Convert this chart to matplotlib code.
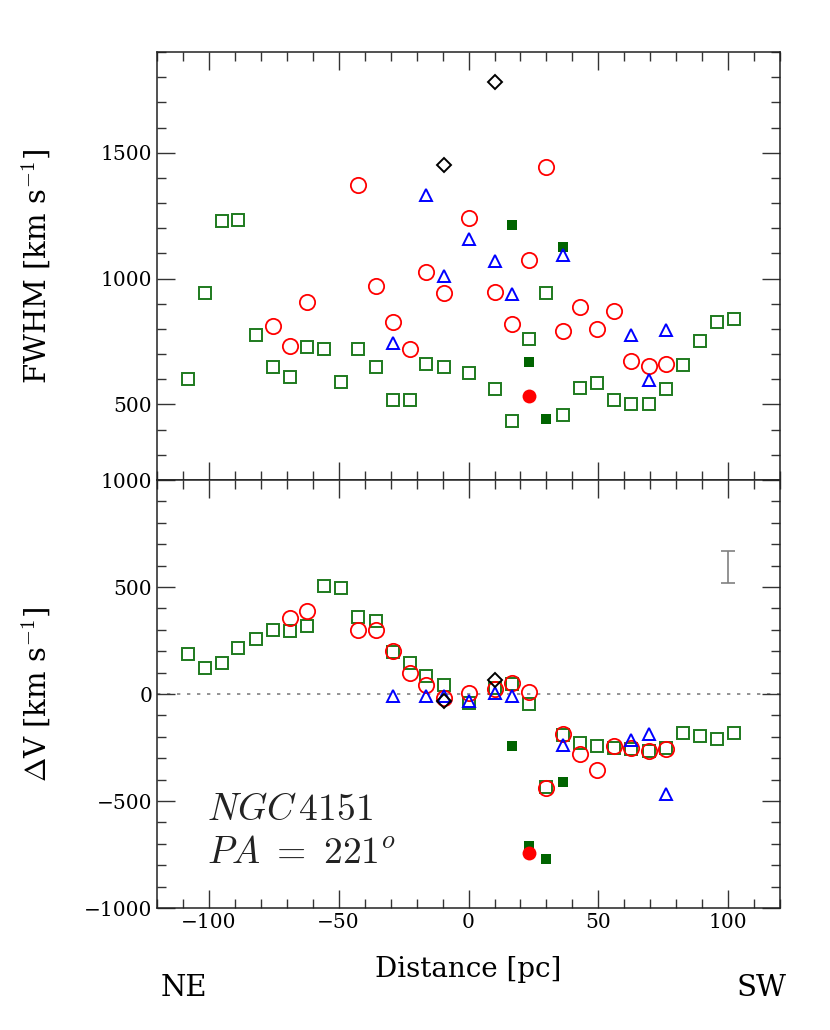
import numpy as np
import matplotlib

matplotlib.use("Agg")
import matplotlib.pyplot as plt
from matplotlib.ticker import MultipleLocator

plt.rcParams["font.family"] = "DejaVu Serif"
plt.rcParams["mathtext.fontset"] = "cm"

# =========================
# DATA (FWHM, oberes Panel)
# =========================
x_sq = [-108.2, -101.5, -95.1, -88.6, -81.9, -75.3, -68.7, -62.2, -55.6, -49.1,
        -42.4, -35.8, -29.2, -22.7, -16.2, -9.6, 0.3, 10.1, 16.7, 23.3, 29.9,
        36.5, 43.1, 49.6, 56.2, 62.7, 69.3, 75.9, 82.4, 89.0, 95.6, 102.2]
fwhm_sq = [600, 943, 1227, 1234, 774, 647, 608, 729, 721, 588,
           721, 648, 516, 516, 659, 647, 623, 560, 436, 761, 943,
           460, 566, 586, 516, 501, 501, 562, 657, 753, 827, 840]

x_circ = [-75.3, -68.7, -62.2, -42.4, -35.8, -29.2, -22.7, -16.2, -9.6, 0.3,
          10.1, 16.7, 23.3, 29.9, 36.5, 43.1, 49.6, 56.2, 62.7, 69.3, 75.9]
fwhm_circ = [813, 734, 906, 1370, 972, 829, 721, 1025, 942, 1240,
             947, 821, 1073, 1442, 791, 886, 800, 870, 673, 651, 661]

x_tri = [-29.2, -16.2, -9.6, 0.3, 10.1, 16.7, 36.5, 62.7, 69.3, 75.9]
fwhm_tri = [745, 1333, 1012, 1158, 1069, 939, 1095, 774, 599, 794]

x_dia = [-9.6, 10.1]
fwhm_dia = [1451, 1782]

x_fsq = [16.7, 23.3, 29.9, 36.5]
fwhm_fsq = [1214, 669, 442, 1126]

x_fcirc = [23.3]
fwhm_fcirc = [533]

# =========================
# DATA (Delta V, unteres Panel)
# =========================
dv_sq = [185, 123, 143, 216, 259, 298, 294, 318, 505, 494,
         361, 341, 198, 146, 84, 41, -42, 27, 48, -48, -435,
         -193, -227, -243, -251, -256, -266, -251, -182, -196, -209, -182]

x_circ_dv = [-68.7, -62.2, -42.4, -35.8, -29.2, -22.7, -16.2, -9.6, 0.3,
             10.1, 16.7, 23.3, 29.9, 36.5, 43.1, 49.6, 56.2, 62.7, 69.3, 75.9]
dv_circ = [355, 389, 298, 298, 201, 100, 41, -17, 6,
           22, 51, 9, -438, -185, -279, -355, -245, -254, -266, -259]

x_tri_dv = [-29.2, -16.2, -9.6, 0.3, 10.1, 16.7, 36.5, 62.7, 69.3, 75.9]
dv_tri = [-9, -11, -9, -33, 5, -9, -238, -215, -185, -466]

dv_dia = [-33, 65]

dv_fsq = [-243, -710, -773, -411]

dv_fcirc = [-742]

# typischer Fehlerbalken
err_x = 100
err_y = 593
err_size = 75

# =========================
# PLOT
# =========================
green = "#1e7a1e"
dkgreen = "#006400"

fig = plt.figure(figsize=(8.3, 10.3), dpi=100)
ax1 = fig.add_axes([0.189, 0.534, 0.751, 0.4155])
ax2 = fig.add_axes([0.189, 0.1184, 0.751, 0.4155], sharex=ax1)


def draw_points(ax, y_sq, y_circ, x_c, y_tri, x_t, y_dia, y_fsq, y_fcirc):
    ax.plot(x_sq, y_sq, "s", ms=8, mfc="none", mec=green, mew=1.4, zorder=3)
    ax.plot(x_c, y_circ, "o", ms=11, mfc="none", mec="red", mew=1.3, zorder=4)
    ax.plot(x_t, y_tri, "^", ms=9, mfc="none", mec="blue", mew=1.4, zorder=5)
    ax.plot(x_dia, y_dia, "D", ms=7.5, mfc="none", mec="black", mew=1.4, zorder=5)
    ax.plot(x_fsq, y_fsq, "s", ms=7, color=dkgreen, mew=0, zorder=4)
    ax.plot(x_fcirc, y_fcirc, "o", ms=10, color="red", mew=0, zorder=5)


draw_points(ax1, fwhm_sq, fwhm_circ, x_circ, fwhm_tri, x_tri, fwhm_dia,
            fwhm_fsq, fwhm_fcirc)
draw_points(ax2, dv_sq, dv_circ, x_circ_dv, dv_tri, x_tri_dv, dv_dia,
            dv_fsq, dv_fcirc)

ax2.axhline(0, color="gray", lw=1.2, ls=(0, (2, 4)), zorder=1)
ax2.errorbar(err_x, err_y, yerr=err_size, fmt="none", ecolor="gray",
             elinewidth=1.2, capsize=5, capthick=1.2)

ax1.set_xlim(-120, 120)
ax1.set_ylim(200, 1900)
ax2.set_ylim(-1000, 1000)

for ax in [ax1, ax2]:
    ax.xaxis.set_major_locator(MultipleLocator(50))
    ax.xaxis.set_minor_locator(MultipleLocator(10))
    ax.yaxis.set_major_locator(MultipleLocator(500))
    ax.yaxis.set_minor_locator(MultipleLocator(100))
    ax.tick_params(which="both", direction="in", top=True, right=True,
                   color="#333333", labelsize=14.5)
    ax.tick_params(which="major", length=13, width=1)
    ax.tick_params(which="minor", length=6.5, width=1)
    for s in ax.spines.values():
        s.set_color("#222222")
        s.set_linewidth(1.1)

ax1.tick_params(labelbottom=False)
ax1.set_ylabel(r"FWHM [km s$^{-1}$]", fontsize=21)
ax2.set_ylabel(r"$\Delta$V [km s$^{-1}$]", fontsize=21)
ax1.yaxis.set_label_coords(-0.168, 0.5)
ax2.yaxis.set_label_coords(-0.168, 0.5)
ax2.set_xlabel("Distance [pc]", fontsize=20)
ax2.xaxis.set_label_coords(0.5, -0.112)

ax2.text(0.08, 0.205, r"$NGC\,4151$", transform=ax2.transAxes, fontsize=27,
         color="#222222")
ax2.text(0.08, 0.105, r"$PA\ =\ 221^o$", transform=ax2.transAxes, fontsize=27,
         color="#222222")

fig.text(0.193, 0.033, "NE", fontsize=21)
fig.text(0.947, 0.033, "SW", fontsize=21, ha="right")

plt.savefig("out.png", dpi=100)
